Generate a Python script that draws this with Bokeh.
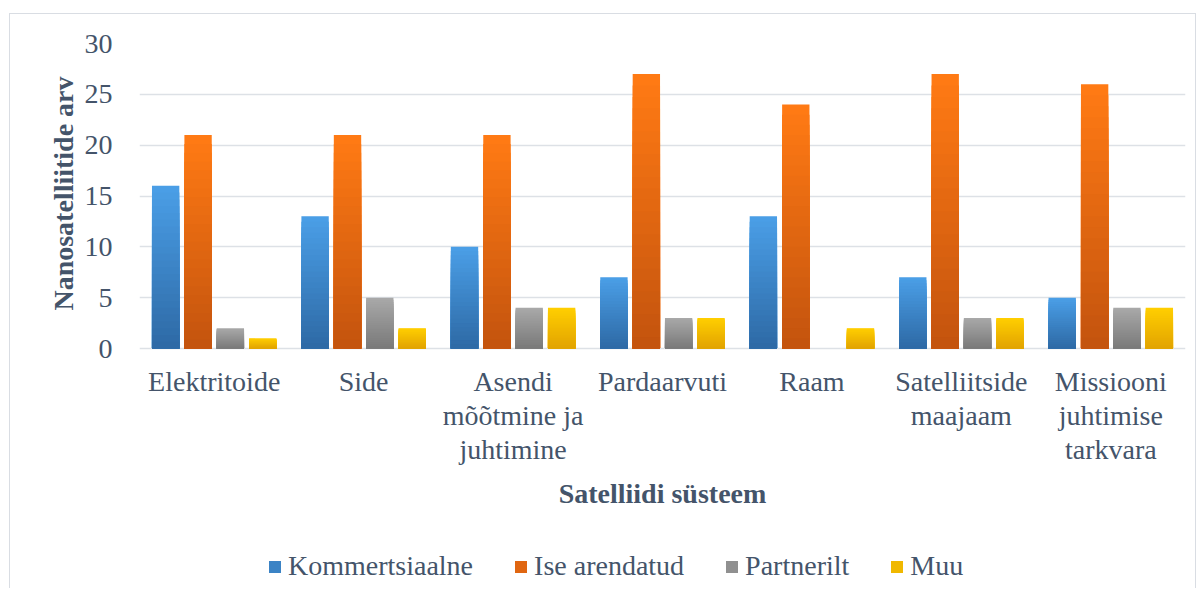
from bokeh.plotting import figure
from bokeh.models import FactorRange, Range1d, FixedTicker, Legend, LegendItem, Label, Title
from bokeh.core.properties import value
from bokeh.transform import dodge
from bokeh.embed import file_html
from bokeh.resources import INLINE

categories = ["Elektritoide", "Side", "Asendi\nmõõtmine ja\njuhtimine", "Pardaarvuti",
              "Raam", "Satelliitside\nmaajaam", "Missiooni\njuhtimise\ntarkvara"]
series_names = ["Kommertsiaalne", "Ise arendatud", "Partnerilt", "Muu"]
kommertsiaalne = [16, 13, 10, 7, 13, 7, 5]
ise_arendatud = [21, 21, 21, 27, 24, 27, 26]
partnerilt = [2, 5, 4, 3, 0, 3, 4]
muu = [1, 2, 4, 3, 2, 3, 4]
y_ticks = [0, 5, 10, 15, 20, 25, 30]
x_title = "Satelliidi süsteem"
y_title = "Nanosatelliitide arv"

series_values = [kommertsiaalne, ise_arendatud, partnerilt, muu]
top_colors = [(74, 158, 230), (255, 122, 20), (168, 168, 168), (255, 206, 0)]
bottom_colors = [(46, 106, 166), (196, 84, 14), (122, 122, 122), (226, 164, 0)]
offsets = [-0.325, -0.108, 0.108, 0.325]
bar_w = 0.183

TEXT = "#44546A"
FONT = "Liberation Serif"

# layout: value range 0..30 occupies the top 305 px of a 545 px frame;
# the area below holds category labels, axis title and legend
FRAME_H = 545
DATA_H = 305
y_max = 30
y_min = -y_max * (FRAME_H - DATA_H) / DATA_H

p = figure(x_range=FactorRange(*categories), y_range=Range1d(y_min, y_max),
           x_axis_location=None,
           frame_width=1046, frame_height=FRAME_H, output_backend="svg", toolbar_location=None,
           min_border_left=129, min_border_right=10, min_border_top=29, min_border_bottom=0)
p.styles = {"border-top": "1px solid #D9DDE3", "border-left": "1px solid #D9DDE3",
            "border-right": "1px solid #D9DDE3", "margin-top": "13px", "margin-left": "9px"}
p.outline_line_color = None
p.background_fill_color = "white"

N = 24
legend_items = []
for s, vals in enumerate(series_values):
    rep = None
    for k in range(N):
        f = (N - k) / N
        t = k / (N - 1)
        c = tuple(int(round(top_colors[s][i] * (1 - t) + bottom_colors[s][i] * t)) for i in range(3))
        col = "#%02x%02x%02x" % c
        r = p.vbar(x=dodge("cat", offsets[s], range=p.x_range), top="top", width=bar_w,
                   source={"cat": categories, "top": [v * f for v in vals]},
                   fill_color=col, line_color=None)
        if k == N // 2:
            rep = r
    legend_items.append(LegendItem(label=series_names[s], renderers=[rep]))

# category labels hanging below the zero line
p.text(x=categories, y=[0] * len(categories), text=categories, y_offset=17,
       text_font=value(FONT), text_font_size="28px", text_color=TEXT,
       text_align="center", text_baseline="top", text_line_height=1.1)

p.yaxis.ticker = FixedTicker(ticks=y_ticks)
p.ygrid.ticker = FixedTicker(ticks=y_ticks)
p.ygrid.grid_line_color = "#DDE1E6"
p.ygrid.grid_line_width = 1.5
p.xgrid.grid_line_color = None

ax = p.yaxis[0]
ax.major_label_text_font = FONT
ax.major_label_text_font_size = "28px"
ax.major_label_text_color = TEXT
ax.major_tick_line_color = None
ax.minor_tick_line_color = None
ax.axis_line_color = None
ax.major_label_standoff = 21

ytitle = Title(text=y_title, align="right", offset=33, standoff=6,
               text_font=FONT, text_font_size="28px", text_font_style="bold", text_color=TEXT)
p.add_layout(ytitle, "left")

xlabel = Label(x=523, y=95, x_units="screen", y_units="screen", text=x_title,
               text_font=FONT, text_font_size="28px", text_font_style="bold", text_color=TEXT,
               text_align="center", text_baseline="alphabetic")
p.add_layout(xlabel)

legend = Legend(items=legend_items, orientation="horizontal", location=(128, 6),
                label_text_font=FONT, label_text_font_size="28px", label_text_color=TEXT,
                glyph_width=15, glyph_height=15, label_standoff=6, spacing=40,
                border_line_color=None, background_fill_alpha=0, margin=0, padding=0)
p.add_layout(legend, "center")

open("out.html", "w").write(file_html(p, INLINE))
